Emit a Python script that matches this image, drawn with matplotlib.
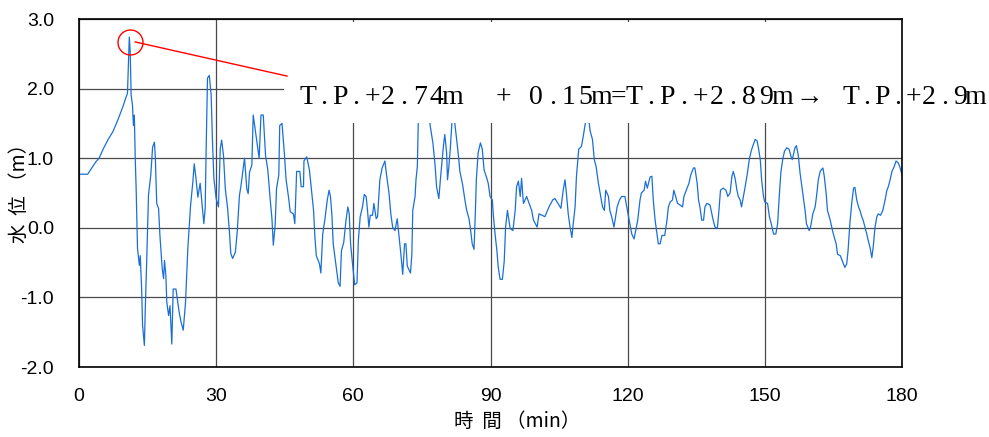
import matplotlib
matplotlib.use('Agg')
import matplotlib.pyplot as plt
from matplotlib.patches import Rectangle

# time (min) and water level (m)
t = [0.0, 1.9, 2.6, 3.7, 4.4, 5.2, 6.3, 7.4, 8.5, 9.6, 10.3, 10.6, 10.8, 11.0, 11.2, 11.4, 11.7, 11.9, 12.1, 12.3,
     12.5, 12.8, 13.2, 13.4, 13.7, 13.9, 14.3, 14.5, 14.8, 15.2, 15.7, 16.1, 16.5, 16.7, 17.0, 17.4, 17.7, 18.2, 18.5, 18.7,
     19.0, 19.2, 19.6, 19.9, 20.3, 20.6, 21.2, 21.6, 21.9, 22.3, 22.8, 23.3, 23.8, 24.4, 24.9, 25.2, 25.6, 26.0, 26.5, 27.0,
     27.3, 27.6, 27.8, 28.1, 28.5, 28.9, 29.2, 29.5, 30.0, 30.5, 30.9, 31.2, 31.6, 32.0, 32.5, 32.9, 33.2, 33.6, 34.2, 34.6,
     35.1, 35.4, 36.2, 36.7, 37.0, 37.3, 37.8, 38.1, 38.6, 39.1, 39.4, 39.8, 40.3, 40.8, 41.3, 41.8, 42.2, 42.5, 42.9, 43.2,
     43.7, 43.9, 44.4, 44.9, 45.3, 45.8, 46.2, 46.9, 47.2, 47.6, 48.3, 48.6, 49.1, 49.2, 49.8, 50.4, 50.9, 51.3, 51.6, 51.9,
     52.6, 52.9, 53.3, 53.8, 54.3, 54.7, 55.0, 55.3, 55.6, 56.1, 56.7, 57.1, 57.4, 57.9, 58.4, 58.8, 59.1, 59.4, 59.9, 60.3,
     60.8, 61.1, 61.5, 62.0, 62.4, 62.8, 63.1, 63.4, 63.7, 64.2, 64.5, 65.0, 65.3, 65.5, 65.8, 66.3, 66.9, 67.3, 67.8, 68.2,
     68.6, 69.1, 69.6, 70.1, 70.4, 70.8, 71.2, 71.5, 71.8, 72.5, 72.8, 73.0, 73.5, 73.7, 74.0, 74.2, 74.6, 75.5, 76.4, 76.8,
     77.4, 77.9, 78.2, 78.7, 79.1, 79.7, 80.0, 80.4, 80.6, 80.9, 81.2, 81.6, 81.9, 82.2, 82.6, 83.0, 83.3, 83.9, 84.4, 84.8,
     85.3, 85.6, 86.0, 86.4, 86.7, 86.9, 87.3, 87.8, 88.2, 88.6, 89.2, 89.5, 89.9, 90.4, 90.6, 91.0, 91.4, 91.7, 92.1, 92.6,
     93.0, 93.3, 93.7, 94.3, 94.9, 95.4, 95.7, 96.1, 96.5, 96.8, 97.2, 97.9, 99.0, 99.4, 100.2, 100.6, 101.9, 102.8, 103.6, 104.1,
     105.4, 105.9, 106.3, 106.6, 107.0, 107.4, 107.8, 108.1, 108.5, 108.8, 109.3, 109.9, 110.3, 110.7, 111.1, 111.5, 111.8, 112.3, 112.7, 113.1,
     113.6, 114.1, 114.5, 114.9, 115.2, 115.8, 116.1, 116.5, 117.0, 117.4, 117.7, 118.2, 118.7, 119.4, 119.8, 120.2, 120.5, 120.9, 121.4, 121.7,
     122.2, 122.7, 123.0, 123.6, 123.9, 124.3, 124.9, 125.3, 125.6, 126.0, 126.4, 126.7, 127.1, 127.5, 128.1, 128.6, 128.9, 129.3, 129.8, 130.1,
     130.5, 130.9, 131.4, 132.0, 132.3, 133.0, 133.4, 133.8, 134.4, 134.7, 135.2, 135.5, 135.8, 136.2, 136.6, 136.9, 137.3, 138.0, 138.7, 139.1,
     139.6, 139.9, 140.3, 140.9, 141.5, 141.9, 142.4, 142.8, 143.1, 143.5, 143.9, 144.2, 144.6, 144.9, 145.7, 146.2, 146.6, 147.0, 147.5, 147.9,
     148.3, 148.6, 149.0, 149.3, 149.7, 150.0, 150.6, 151.0, 151.4, 151.9, 152.4, 152.8, 153.1, 153.5, 153.9, 154.3, 154.8, 155.3, 155.7, 156.0,
     156.6, 156.9, 157.3, 157.7, 158.0, 158.4, 158.8, 159.1, 159.7, 160.0, 160.5, 161.0, 161.3, 161.7, 162.1, 162.7, 163.0, 163.4, 163.7, 164.3,
     164.8, 165.2, 165.6, 165.9, 166.5, 166.8, 167.2, 167.5, 167.9, 168.2, 168.6, 169.0, 169.4, 169.7, 170.1, 170.5, 170.8, 171.2, 171.5, 171.9,
     172.3, 172.6, 173.0, 173.4, 173.7, 174.1, 174.5, 174.8, 175.3, 175.8, 176.3, 176.7, 177.0, 177.4, 177.8, 178.3, 178.7, 179.2, 179.6, 180.0]
level = [0.77, 0.77, 0.84, 0.95, 1.00, 1.12, 1.26, 1.38, 1.55, 1.74, 1.88, 1.93, 2.34, 2.74, 2.53, 1.91, 1.76, 1.47, 1.62, 1.00,
         0.56, -0.30, -0.54, -0.40, -0.88, -1.40, -1.69, -1.16, -0.49, 0.47, 0.76, 1.16, 1.23, 1.00, 0.35, 0.28, -0.11, -0.59, -0.73, -0.47,
         -0.68, -1.07, -1.26, -1.12, -1.67, -0.88, -0.88, -1.07, -1.21, -1.35, -1.47, -1.07, -0.30, 0.32, 0.66, 0.92, 0.70, 0.44, 0.64, 0.28,
         0.06, 0.28, 1.09, 2.15, 2.19, 1.91, 1.23, 0.71, 0.42, 0.30, 1.14, 1.26, 1.04, 0.56, 0.28, -0.06, -0.37, -0.44, -0.35, -0.06,
         0.47, 0.59, 1.00, 0.56, 0.49, 0.80, 0.90, 1.62, 1.38, 1.14, 1.00, 1.62, 1.62, 1.04, 0.83, 0.42, 0.13, -0.25, 0.04, 0.56,
         0.76, 1.47, 1.50, 1.08, 0.69, 0.45, 0.23, 0.20, 0.06, 0.81, 0.81, 0.59, 0.59, 0.96, 1.02, 0.83, 0.50, 0.25, -0.14, -0.40,
         -0.52, -0.65, -0.09, 0.13, 0.40, 0.54, 0.45, 0.20, -0.23, -0.48, -0.79, -0.84, -0.33, -0.21, 0.11, 0.30, 0.20, -0.23, -0.57, -0.82,
         -0.79, -0.18, 0.16, 0.30, 0.48, 0.45, 0.25, 0.01, 0.18, 0.18, 0.35, 0.13, 0.16, 0.37, 0.69, 0.86, 0.96, 0.74, 0.50, 0.20,
         0.01, -0.04, 0.13, -0.18, -0.38, -0.67, -0.23, -0.23, -0.55, -0.65, -0.38, 0.25, 0.45, 0.69, 0.88, 1.50, 1.75, 1.80, 1.70, 1.47,
         1.22, 0.88, 0.59, 0.42, 0.74, 1.17, 1.34, 1.08, 0.69, 0.88, 1.13, 1.55, 1.65, 1.50, 1.26, 1.03, 0.81, 0.62, 0.40, 0.25,
         0.13, -0.01, -0.23, -0.31, 0.25, 0.69, 1.08, 1.22, 1.13, 0.83, 0.71, 0.64, 0.45, 0.40, 0.20, -0.09, -0.33, -0.57, -0.74, -0.74,
         -0.48, 0.01, 0.25, -0.01, -0.04, 0.25, 0.59, 0.67, 0.45, 0.71, 0.35, 0.45, 0.25, 0.11, 0.01, 0.20, 0.16, 0.30, 0.40, 0.42,
         0.28, 0.54, 0.69, 0.50, 0.20, 0.01, -0.14, 0.06, 0.30, 0.74, 1.13, 1.17, 1.32, 1.49, 1.60, 1.55, 1.39, 1.27, 0.98, 0.88,
         0.64, 0.45, 0.30, 0.25, 0.54, 0.45, 0.25, 0.16, 0.01, 0.18, 0.30, 0.40, 0.45, 0.45, 0.30, 0.16, 0.06, -0.09, -0.16, -0.06,
         0.11, 0.40, 0.50, 0.54, 0.67, 0.57, 0.73, 0.74, 0.40, 0.11, -0.09, -0.23, -0.23, -0.11, -0.11, 0.11, 0.30, 0.37, 0.40, 0.54,
         0.45, 0.35, 0.33, 0.30, 0.45, 0.57, 0.64, 0.76, 0.86, 0.86, 0.64, 0.40, 0.30, 0.11, 0.11, 0.30, 0.35, 0.33, 0.11, 0.01,
         -0.01, 0.20, 0.54, 0.57, 0.54, 0.45, 0.50, 0.74, 0.81, 0.71, 0.54, 0.45, 0.40, 0.30, 0.59, 0.79, 0.98, 1.10, 1.20, 1.27,
         1.25, 1.15, 0.98, 0.69, 0.45, 0.37, 0.35, 0.16, 0.06, -0.09, -0.09, 0.06, 0.40, 0.79, 0.98, 1.10, 1.15, 1.13, 1.03, 0.98,
         1.15, 1.18, 1.05, 0.79, 0.64, 0.45, 0.25, 0.06, -0.04, 0.01, 0.20, 0.30, 0.45, 0.69, 0.81, 0.86, 0.74, 0.50, 0.25, 0.11,
         -0.04, -0.14, -0.23, -0.38, -0.40, -0.45, -0.52, -0.57, -0.52, -0.33, 0.06, 0.35, 0.57, 0.58, 0.40, 0.30, 0.25, 0.16, 0.11, 0.01,
         -0.09, -0.18, -0.28, -0.43, -0.28, 0.01, 0.16, 0.20, 0.18, 0.25, 0.40, 0.54, 0.59, 0.69, 0.81, 0.88, 0.96, 0.93, 0.86, 0.76]

x_ticks = [0, 30, 60, 90, 120, 150, 180]
y_ticks = [-2.0, -1.0, 0.0, 1.0, 2.0, 3.0]

peak_t = 11.05
peak_v = 2.67
note_parts = ["T.P.+2.74m", "+ 0.15m=T.P.+2.89m", "\u2192", "T.P.+2.9m"]
note_x = [300, 495, 798, 843]        # left edge of each piece, px
note_pitch = [16.0, 16.4, 22.0, 15.6]  # cell width of each piece, px

W, H = 989, 437
fig = plt.figure(figsize=(W / 100, H / 100), dpi=100)
ax = fig.add_axes([79 / W, 70 / H, 823 / W, 348 / H])

ax.plot(t, level, color='#1a6fd6', lw=0.9, zorder=2)

ax.set_xlim(0, 180)
ax.set_ylim(-2, 3)
ax.set_xticks(x_ticks)
ax.set_yticks(y_ticks)
ax.set_xticklabels([str(v) for v in x_ticks])
ax.set_yticklabels(['%.1f' % v for v in y_ticks])
ax.tick_params(length=0, labelsize=14, pad=15)
ax.tick_params(axis='y', pad=18)
for lab in ax.get_xticklabels() + ax.get_yticklabels():
    lab.set_family('Liberation Sans')
ax.grid(True, color='#4a4a4a', lw=0.9)
ax.set_axisbelow(True)
for s in ax.spines.values():
    s.set_linewidth(1.2)
    s.set_color('black')

# callout at the peak
ax.plot([peak_t], [peak_v], 'o', ms=18, mfc='none', mec='red', mew=1.0, zorder=3)
ax.plot([12.3, 45.5], [2.67, 2.18], color='red', lw=1.0, zorder=3)

# white box behind the note hides grid and curve
box = Rectangle((284 / W, 1 - 123 / H), (W - 284) / W, (123 - 22) / H,
                transform=fig.transFigure, facecolor='white', edgecolor='none',
                zorder=2.3, clip_on=False)
ax.add_patch(box)

# note is set in fixed pitch cells, like the original half-width type
for s, xp, p in zip(note_parts, note_x, note_pitch):
    for i, ch in enumerate(s):
        fig.text((xp + (i + 0.5) * p) / W, 1 - 104 / H, ch, fontsize=20,
                 family=['Liberation Serif', 'DejaVu Serif'], ha='center', va='baseline')

fig.text(19 / W, 1 - 188 / H, '水  位 （m）', rotation=90, fontsize=14, ha='center', va='center',
         family=['Noto Sans CJK JP', 'DejaVu Sans'])
fig.text(517 / W, 1 - 421 / H, '時  間 （min）', fontsize=14, ha='center', va='center',
         family=['Noto Sans CJK JP', 'DejaVu Sans'])

fig.savefig('out.png', dpi=100)
